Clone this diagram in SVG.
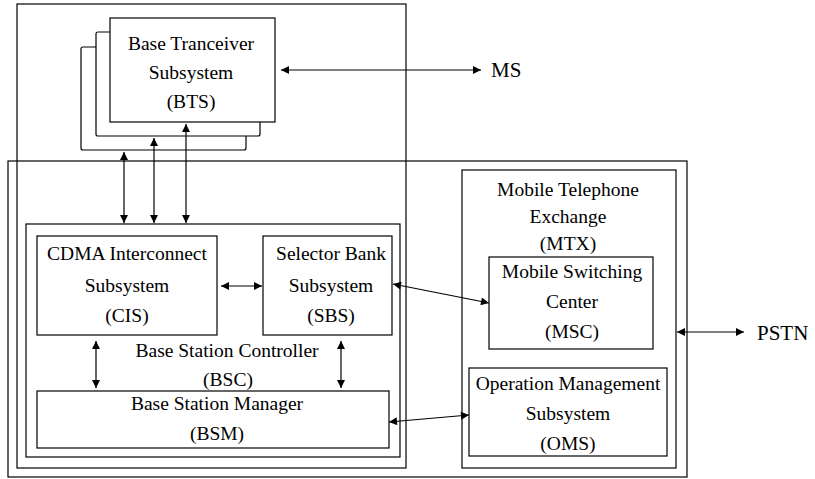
<svg xmlns="http://www.w3.org/2000/svg" width="815" height="479" viewBox="0 0 815 479">
<style>
.box{fill:none;stroke:#000;stroke-width:1.2}
.fbox{fill:#fff;stroke:#000;stroke-width:1.2}
.t{font-family:"Liberation Serif","Times New Roman",serif;font-size:19.5px;fill:#000;text-anchor:middle}
.tl{font-family:"Liberation Serif","Times New Roman",serif;font-size:21px;fill:#000}
.c{stroke:#000;stroke-width:1.2;fill:none;marker-start:url(#ah);marker-end:url(#ah)}
</style>
<defs>
<marker id="ah" viewBox="0 0 10 10" refX="10" refY="5" markerWidth="10" markerHeight="8" markerUnits="userSpaceOnUse" orient="auto-start-reverse">
<path d="M0,0 L10,5 L0,10 z" fill="#000"/>
</marker>
</defs>
<rect width="815" height="479" fill="#fff"/>
<g id="outer-top"><rect class="box" x="17" y="4" width="389" height="464"/></g>
<g id="outer-bottom"><rect class="box" x="8" y="161" width="679" height="316"/></g>
<g id="bts">
<rect class="fbox" x="81" y="47" width="165" height="103" rx="2"/>
<rect class="fbox" x="96" y="32" width="164" height="104" rx="2"/>
<rect class="fbox" x="110" y="18" width="165" height="104"/>
<text class="t" x="191" y="50">Base Tranceiver</text>
<text class="t" x="191" y="79">Subsystem</text>
<text class="t" x="191" y="108">(BTS)</text>
</g>
<g id="bsc">
<rect class="box" x="26" y="224" width="374" height="233"/>
<text class="t" x="227" y="357">Base Station Controller</text>
<text class="t" x="228" y="386">(BSC)</text>
</g>
<g id="cis">
<rect class="box" x="37" y="236" width="180" height="99"/>
<text class="t" x="127" y="260">CDMA Interconnect</text>
<text class="t" x="127" y="292">Subsystem</text>
<text class="t" x="127" y="322">(CIS)</text>
</g>
<g id="sbs">
<rect class="box" x="263" y="236" width="129" height="99"/>
<text class="t" x="331" y="260">Selector Bank</text>
<text class="t" x="331" y="292">Subsystem</text>
<text class="t" x="331" y="322">(SBS)</text>
</g>
<g id="bsm">
<rect class="box" x="37" y="391" width="352" height="57"/>
<text class="t" x="217" y="410">Base Station Manager</text>
<text class="t" x="217" y="440">(BSM)</text>
</g>
<g id="mtx">
<rect class="box" x="462" y="170" width="214" height="298"/>
<text class="t" x="568" y="196">Mobile Telephone</text>
<text class="t" x="568" y="223">Exchange</text>
<text class="t" x="568" y="250">(MTX)</text>
</g>
<g id="msc">
<rect class="fbox" x="489" y="257" width="164" height="92"/>
<text class="t" x="572" y="278">Mobile Switching</text>
<text class="t" x="572" y="308">Center</text>
<text class="t" x="572" y="338">(MSC)</text>
</g>
<g id="oms">
<rect class="box" x="469" y="368" width="198" height="88"/>
<text class="t" x="568" y="390">Operation Management</text>
<text class="t" x="568" y="420">Subsystem</text>
<text class="t" x="568" y="450">(OMS)</text>
</g>
<g id="ms"><text class="tl" x="491" y="77">MS</text></g>
<g id="pstn"><text class="tl" x="757" y="340">PSTN</text></g>
<g id="connectors">
<line class="c" x1="124" y1="152" x2="124" y2="223"/>
<line class="c" x1="154" y1="138" x2="154" y2="223"/>
<line class="c" x1="186" y1="124" x2="186" y2="223"/>
<line class="c" x1="281" y1="70" x2="481" y2="70"/>
<line class="c" x1="221" y1="286" x2="262" y2="286"/>
<line class="c" x1="96" y1="341" x2="96" y2="388"/>
<line class="c" x1="341" y1="341" x2="341" y2="388"/>
<line class="c" x1="393" y1="284" x2="489" y2="303"/>
<line class="c" x1="389" y1="422" x2="469" y2="415"/>
<line class="c" x1="677" y1="332" x2="744" y2="332"/>
</g>
</svg>
